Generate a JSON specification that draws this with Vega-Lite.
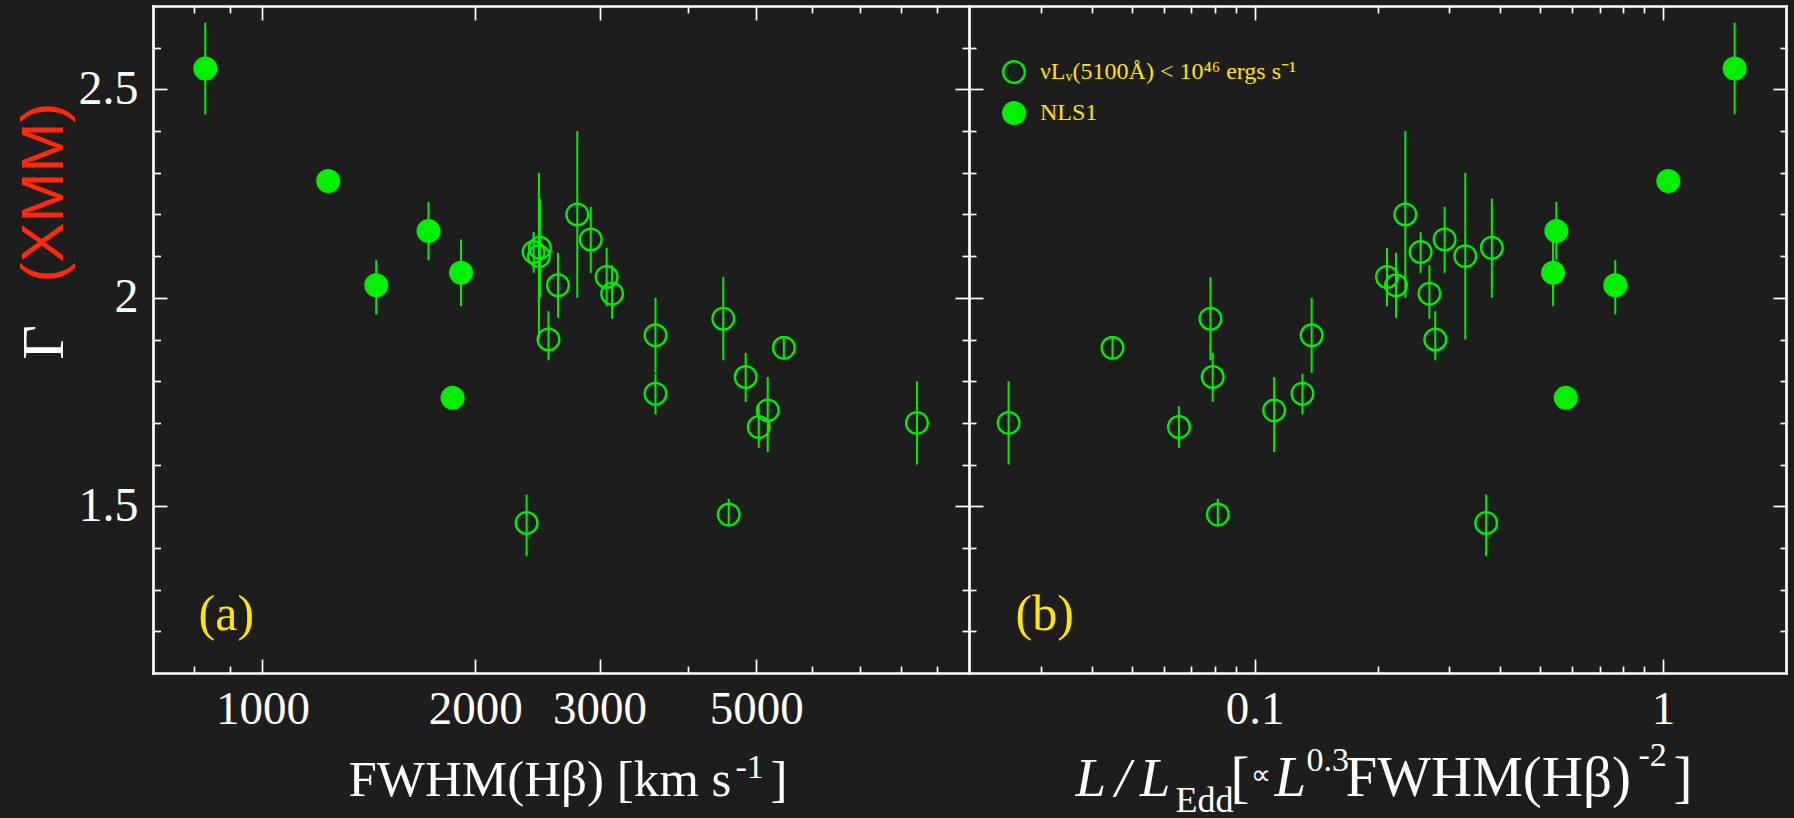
{
  "$schema": "https://vega.github.io/schema/vega-lite/v6.json",
  "autosize": {"type": "none"},
  "padding": {"left": 153, "top": 6, "right": 8, "bottom": 145},
  "width": 1633,
  "height": 667,
  "background": "#1d1d1d",
  "datasets": {
    "pts": [
      {"fwhm": 2420, "ledd": 0.255, "g": 2.11, "lo": 2.06, "hi": 2.158, "cls": "low"},
      {"fwhm": 2470, "ledd": 0.381, "g": 2.12, "lo": 2.0, "hi": 2.238, "cls": "low"},
      {"fwhm": 2462, "ledd": 0.328, "g": 2.1, "lo": 1.9, "hi": 2.3, "cls": "low"},
      {"fwhm": 2540, "ledd": 0.277, "g": 1.9, "lo": 1.85, "hi": 1.968, "cls": "low"},
      {"fwhm": 2620, "ledd": 0.222, "g": 2.03, "lo": 1.952, "hi": 2.108, "cls": "low"},
      {"fwhm": 2790, "ledd": 0.234, "g": 2.2, "lo": 2.0, "hi": 2.4, "cls": "low"},
      {"fwhm": 2915, "ledd": 0.292, "g": 2.14, "lo": 2.06, "hi": 2.218, "cls": "low"},
      {"fwhm": 3070, "ledd": 0.211, "g": 2.05, "lo": 1.98, "hi": 2.12, "cls": "low"},
      {"fwhm": 3125, "ledd": 0.268, "g": 2.01, "lo": 1.95, "hi": 2.078, "cls": "low"},
      {"fwhm": 3600, "ledd": 0.138, "g": 1.91, "lo": 1.82, "hi": 2.0, "cls": "low"},
      {"fwhm": 3600, "ledd": 0.131, "g": 1.77, "lo": 1.72, "hi": 1.818, "cls": "low"},
      {"fwhm": 4490, "ledd": 0.078, "g": 1.95, "lo": 1.85, "hi": 2.05, "cls": "low"},
      {"fwhm": 4830, "ledd": 0.079, "g": 1.81, "lo": 1.75, "hi": 1.868, "cls": "low"},
      {"fwhm": 5470, "ledd": 0.0449, "g": 1.88, "lo": 1.855, "hi": 1.905, "cls": "low"},
      {"fwhm": 5190, "ledd": 0.1117, "g": 1.73, "lo": 1.63, "hi": 1.81, "cls": "low"},
      {"fwhm": 5040, "ledd": 0.0653, "g": 1.69, "lo": 1.64, "hi": 1.74, "cls": "low"},
      {"fwhm": 8440, "ledd": 0.025, "g": 1.7, "lo": 1.6, "hi": 1.8, "cls": "low"},
      {"fwhm": 4570, "ledd": 0.0813, "g": 1.48, "lo": 1.452, "hi": 1.518, "cls": "low"},
      {"fwhm": 2365, "ledd": 0.369, "g": 1.46, "lo": 1.38, "hi": 1.528, "cls": "low"},
      {"fwhm": 830, "ledd": 1.497, "g": 2.55, "lo": 2.44, "hi": 2.66, "cls": "NLS1"},
      {"fwhm": 1239, "ledd": 1.03, "g": 2.28, "lo": 2.27, "hi": 2.29, "cls": "NLS1"},
      {"fwhm": 1449, "ledd": 0.764, "g": 2.03, "lo": 1.96, "hi": 2.09, "cls": "NLS1"},
      {"fwhm": 1718, "ledd": 0.548, "g": 2.16, "lo": 2.09, "hi": 2.23, "cls": "NLS1"},
      {"fwhm": 1910, "ledd": 0.538, "g": 2.06, "lo": 1.98, "hi": 2.14, "cls": "NLS1"},
      {"fwhm": 1858, "ledd": 0.578, "g": 1.76, "lo": 1.75, "hi": 1.77, "cls": "NLS1"}
    ]
  },
  "data": {"name": "pts"},
  "config": {
    "view": {"stroke": null},
    "axis": {
      "grid": false,
      "domainColor": "#ffffff",
      "tickColor": "#ffffff",
      "labelColor": "#ffffff",
      "titleColor": "#ffffff",
      "labelFont": "Liberation Serif",
      "titleFont": "Liberation Serif",
      "labelFontSize": 47,
      "domainWidth": 2.7,
      "tickWidth": 1.7,
      "titleFontWeight": "normal",
      "labelFlush": false,
      "labelOverlap": false,
      "titlePadding": 0,
      "domainCap": "square"
    }
  },
  "resolve": {
    "scale": {"x": "independent"},
    "axis": {"x": "independent", "y": "independent"}
  },
  "layer": [
    {
      "mark": {"type": "rule", "color": "#00f000", "strokeWidth": 2},
      "encoding": {
        "x": {"field": "fwhm", "type": "quantitative",
          "scale": {"type": "log", "domain": [700, 10000], "range": [0, 816], "nice": false},
          "axis": {"orient": "bottom", "values": [1000, 2000, 3000, 5000], "labelExpr": "'' + datum.value",
            "ticks": false, "tickSize": 0, "domain": false, "labelPadding": 50, "labelBaseline": "alphabetic",
            "title": "FWHM(Hβ) [km s", "titleX": 195, "titleY": 122, "titleAlign": "left", "titleBaseline": "alphabetic", "titleFontSize": 51}},
        "y": {"field": "lo", "type": "quantitative",
          "scale": {"domain": [1.1, 2.7], "nice": false, "zero": false},
          "axis": {"orient": "left", "values": [1.5, 2, 2.5], "labelExpr": "'' + datum.value",
            "ticks": false, "tickSize": 0, "domain": false, "labelPadding": 15, "labelFontSize": 48,
            "title": "Γ", "titleX": -91, "titleY": 336, "titleAngle": 270, "titleAlign": "center", "titleBaseline": "alphabetic", "titleFontSize": 60}},
        "y2": {"field": "hi"}
      }
    },
    {
      "mark": {"type": "point", "shape": "circle", "filled": true, "size": 470, "stroke": "#00f000", "strokeWidth": 2.3, "opacity": 1},
      "encoding": {
        "x": {"field": "fwhm", "type": "quantitative",
          "scale": {"type": "log", "domain": [700, 10000], "range": [0, 816], "nice": false},
          "axis": {"orient": "bottom", "values": [1000, 2000, 3000, 5000], "tickSize": -14, "labels": false, "domain": true,
            "title": "-1", "titleX": 582, "titleY": 104, "titleAlign": "left", "titleBaseline": "alphabetic", "titleFontSize": 34}},
        "y": {"field": "g", "type": "quantitative",
          "scale": {"domain": [1.1, 2.7], "nice": false, "zero": false},
          "axis": {"orient": "left", "values": [1.5, 2, 2.5], "tickSize": -14, "labels": false, "domain": true,
            "title": "(XMM)", "titleX": -91, "titleY": 186, "titleAngle": 270, "titleAlign": "center", "titleBaseline": "alphabetic",
            "titleFont": "Liberation Sans", "titleFontSize": 60, "titleColor": "#ff2a0a"}},
        "fill": {"field": "cls", "type": "nominal",
          "scale": {"domain": ["low", "NLS1"], "range": ["transparent", "#00f000"]},
          "legend": {"orient": "none", "legendX": 849, "legendY": 54, "title": null, "padding": 0,
            "labelExpr": "datum.label == 'low' ? 'νLᵥ(5100Å) < 10⁴⁶ ergs s⁻¹' : 'NLS1'",
            "labelFont": "Liberation Serif", "labelFontSize": 24, "labelColor": "#ffe600", "labelLimit": 600,
            "symbolType": "circle", "symbolSize": 470, "symbolStrokeColor": "#00f000", "symbolStrokeWidth": 2.3, "symbolOpacity": 1,
            "labelOffset": 14, "rowPadding": 9}}
      }
    },
    {
      "mark": {"type": "point", "opacity": 0},
      "encoding": {
        "x": {"field": "fwhm", "type": "quantitative",
          "scale": {"type": "log", "domain": [700, 10000], "range": [0, 816], "nice": false},
          "axis": {"orient": "bottom", "values": [800, 900, 4000, 6000, 7000, 8000, 9000], "tickSize": -7, "labels": false, "domain": false,
            "title": "]", "titleX": 617, "titleY": 122, "titleAlign": "left", "titleBaseline": "alphabetic", "titleFontSize": 51}},
        "y": {"field": "g", "type": "quantitative",
          "scale": {"domain": [1.1, 2.7], "nice": false, "zero": false},
          "axis": {"orient": "left", "values": [1.2, 1.3, 1.4, 1.6, 1.7, 1.8, 1.9, 2.1, 2.2, 2.3, 2.4, 2.6], "tickSize": -7.5, "labels": false, "domain": false, "title": null}}
      }
    },
    {
      "mark": {"type": "point", "opacity": 0},
      "encoding": {
        "x": {"field": "fwhm", "type": "quantitative",
          "scale": {"type": "log", "domain": [700, 10000], "range": [0, 816], "nice": false},
          "axis": {"orient": "top", "values": [1000, 2000, 3000, 5000], "tickSize": -14, "labels": false, "domain": true,
            "title": "L", "titleX": 1121, "titleY": 789, "titleAlign": "left", "titleBaseline": "alphabetic", "titleFontSize": 57, "titleFontStyle": "italic"}},
        "y": {"field": "g", "type": "quantitative",
          "scale": {"domain": [1.1, 2.7], "nice": false, "zero": false},
          "axis": {"orient": "left", "offset": -816, "values": [1.5, 2, 2.5], "tickSize": 14, "labels": false, "domain": true, "title": null}}
      }
    },
    {
      "mark": {"type": "point", "opacity": 0},
      "encoding": {
        "x": {"field": "fwhm", "type": "quantitative",
          "scale": {"type": "log", "domain": [700, 10000], "range": [0, 816], "nice": false},
          "axis": {"orient": "top", "values": [800, 900, 4000, 6000, 7000, 8000, 9000], "tickSize": -7, "labels": false, "domain": false,
            "title": "0.3", "titleX": 1153, "titleY": 764, "titleAlign": "left", "titleBaseline": "alphabetic", "titleFontSize": 34}},
        "y": {"field": "g", "type": "quantitative",
          "scale": {"domain": [1.1, 2.7], "nice": false, "zero": false},
          "axis": {"orient": "left", "offset": -816, "values": [1.2, 1.3, 1.4, 1.6, 1.7, 1.8, 1.9, 2.1, 2.2, 2.3, 2.4, 2.6], "tickSize": 7, "labels": false, "domain": false, "title": null}}
      }
    },
    {
      "mark": {"type": "rule", "color": "#00f000", "strokeWidth": 2},
      "encoding": {
        "x": {"field": "ledd", "type": "quantitative",
          "scale": {"type": "log", "domain": [0.02, 2], "range": [816, 1633], "nice": false},
          "axis": {"orient": "bottom", "values": [0.1, 1], "labelExpr": "'' + datum.value",
            "ticks": false, "tickSize": 0, "domain": false, "labelPadding": 50, "labelBaseline": "alphabetic",
            "title": "FWHM(Hβ)", "titleX": 1192, "titleY": 122, "titleAlign": "left", "titleBaseline": "alphabetic", "titleFontSize": 57}},
        "y": {"field": "lo", "type": "quantitative",
          "scale": {"domain": [1.1, 2.7], "nice": false, "zero": false},
          "axis": {"orient": "left", "offset": -816, "values": [1.5, 2, 2.5], "tickSize": -14, "labels": false, "domain": false, "title": null}},
        "y2": {"field": "hi"}
      }
    },
    {
      "mark": {"type": "point", "shape": "circle", "filled": true, "size": 470, "stroke": "#00f000", "strokeWidth": 2.3, "opacity": 1},
      "encoding": {
        "x": {"field": "ledd", "type": "quantitative",
          "scale": {"type": "log", "domain": [0.02, 2], "range": [816, 1633], "nice": false},
          "axis": {"orient": "bottom", "values": [0.1, 1], "tickSize": -14, "labels": false, "domain": true,
            "title": "L\u2006/\u2006L", "titleX": 922, "titleY": 122, "titleAlign": "left", "titleBaseline": "alphabetic", "titleFontSize": 55, "titleFontStyle": "italic"}},
        "y": {"field": "g", "type": "quantitative",
          "scale": {"domain": [1.1, 2.7], "nice": false, "zero": false},
          "axis": {"orient": "left", "offset": -816, "values": [1.2, 1.3, 1.4, 1.6, 1.7, 1.8, 1.9, 2.1, 2.2, 2.3, 2.4, 2.6], "tickSize": -7, "labels": false, "domain": false, "title": null}},
        "fill": {"field": "cls", "type": "nominal",
          "scale": {"domain": ["low", "NLS1"], "range": ["transparent", "#00f000"]},
          "legend": {"orient": "none", "legendX": 849, "legendY": 54, "title": null, "padding": 0,
            "labelExpr": "datum.label == 'low' ? 'νLᵥ(5100Å) < 10⁴⁶ ergs s⁻¹' : 'NLS1'",
            "labelFont": "Liberation Serif", "labelFontSize": 24, "labelColor": "#ffe600", "labelLimit": 600,
            "symbolType": "circle", "symbolSize": 470, "symbolStrokeColor": "#00f000", "symbolStrokeWidth": 2.3, "symbolOpacity": 1,
            "labelOffset": 14, "rowPadding": 9}}
      }
    },
    {
      "mark": {"type": "point", "opacity": 0},
      "encoding": {
        "x": {"field": "ledd", "type": "quantitative",
          "scale": {"type": "log", "domain": [0.02, 2], "range": [816, 1633], "nice": false},
          "axis": {"orient": "bottom", "values": [0.03, 0.04, 0.05, 0.06, 0.07, 0.08, 0.09, 0.2, 0.3, 0.4, 0.5, 0.6, 0.7, 0.8, 0.9], "tickSize": -7, "labels": false, "domain": false,
            "title": "Edd", "titleX": 1022, "titleY": 138, "titleAlign": "left", "titleBaseline": "alphabetic", "titleFontSize": 36}},
        "y": {"field": "g", "type": "quantitative",
          "scale": {"domain": [1.1, 2.7], "nice": false, "zero": false},
          "axis": {"orient": "right", "values": [1.5, 2, 2.5], "tickSize": -13, "labels": false, "domain": true, "title": null}}
      }
    },
    {
      "mark": {"type": "point", "opacity": 0},
      "encoding": {
        "x": {"field": "ledd", "type": "quantitative",
          "scale": {"type": "log", "domain": [0.02, 2], "range": [816, 1633], "nice": false},
          "axis": {"orient": "top", "values": [0.1, 1], "tickSize": -14, "labels": false, "domain": true,
            "title": "[", "titleX": 1077, "titleY": 789, "titleAlign": "left", "titleBaseline": "alphabetic", "titleFontSize": 57}},
        "y": {"field": "g", "type": "quantitative",
          "scale": {"domain": [1.1, 2.7], "nice": false, "zero": false},
          "axis": {"orient": "right", "values": [1.2, 1.3, 1.4, 1.6, 1.7, 1.8, 1.9, 2.1, 2.2, 2.3, 2.4, 2.6], "tickSize": -6, "labels": false, "domain": false, "title": null}}
      }
    },
    {
      "mark": {"type": "point", "opacity": 0},
      "encoding": {
        "x": {"field": "ledd", "type": "quantitative",
          "scale": {"type": "log", "domain": [0.02, 2], "range": [816, 1633], "nice": false},
          "axis": {"orient": "top", "values": [0.03, 0.04, 0.05, 0.06, 0.07, 0.08, 0.09, 0.2, 0.3, 0.4, 0.5, 0.6, 0.7, 0.8, 0.9], "tickSize": -7, "labels": false, "domain": false,
            "title": "∝", "titleX": 1097, "titleY": 777, "titleAlign": "left", "titleBaseline": "alphabetic", "titleFontSize": 28}},
        "y": {"field": "g", "type": "quantitative",
          "scale": {"domain": [1.1, 2.7], "nice": false, "zero": false},
          "axis": null}
      }
    },
    {
      "data": {"values": [{"label": "(a)"}]},
      "mark": {"type": "text", "align": "left", "baseline": "alphabetic", "font": "Liberation Serif", "fontSize": 50, "color": "#ffe600"},
      "encoding": {
        "x": {"datum": 812, "type": "quantitative",
          "scale": {"type": "log", "domain": [700, 10000], "range": [0, 816], "nice": false},
          "axis": {"orient": "bottom", "ticks": false, "labels": false, "domain": false,
            "title": "-2", "titleX": 1485, "titleY": 92, "titleAlign": "left", "titleBaseline": "alphabetic", "titleFontSize": 34}},
        "y": {"datum": 1.204, "type": "quantitative",
          "scale": {"domain": [1.1, 2.7], "nice": false, "zero": false}, "axis": null},
        "text": {"field": "label"}
      }
    },
    {
      "data": {"values": [{"label": "(b)"}]},
      "mark": {"type": "text", "align": "left", "baseline": "alphabetic", "font": "Liberation Serif", "fontSize": 50, "color": "#ffe600"},
      "encoding": {
        "x": {"datum": 0.026, "type": "quantitative",
          "scale": {"type": "log", "domain": [0.02, 2], "range": [816, 1633], "nice": false},
          "axis": {"orient": "bottom", "ticks": false, "labels": false, "domain": false,
            "title": "]", "titleX": 1520, "titleY": 122, "titleAlign": "left", "titleBaseline": "alphabetic", "titleFontSize": 57}},
        "y": {"datum": 1.204, "type": "quantitative",
          "scale": {"domain": [1.1, 2.7], "nice": false, "zero": false}, "axis": null},
        "text": {"field": "label"}
      }
    }
  ]
}
